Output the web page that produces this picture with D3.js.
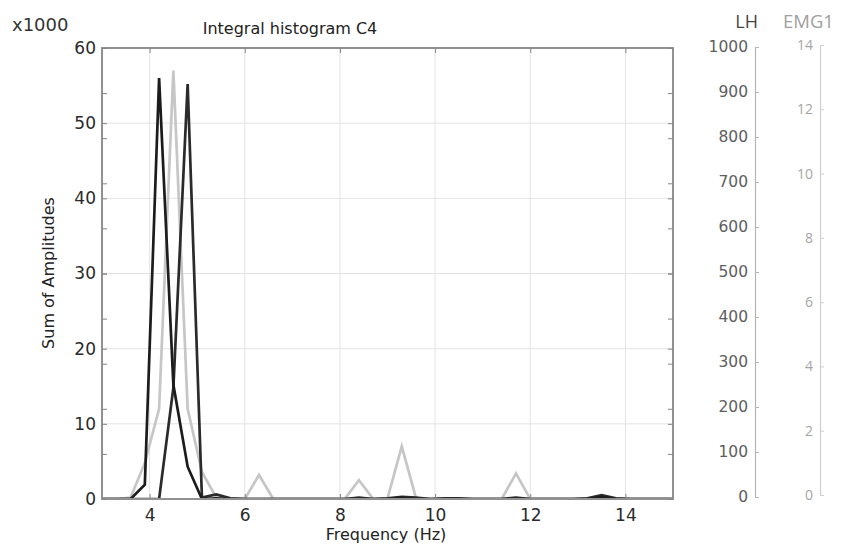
<!DOCTYPE html>
<html>
<head>
<meta charset="utf-8">
<script src="https://cdn.jsdelivr.net/npm/d3@7"></script>
<style>
  html, body { margin: 0; padding: 0; background: #fff; }
  svg { display: block; }
</style>
</head>
<body>
<script>
// ---------- data ----------
const freq = [3.0, 3.3, 3.6, 3.9, 4.2, 4.5, 4.8, 5.1, 5.4, 5.7, 6.0, 6.3, 6.6, 6.9, 7.2, 7.5, 7.8, 8.1, 8.4, 8.7,
              9.0, 9.3, 9.6, 9.9, 10.2, 10.5, 10.8, 11.1, 11.4, 11.7, 12.0, 12.3, 12.6, 12.9, 13.2, 13.5, 13.8, 14.1, 14.4, 14.7, 15.0];
// series A (black, peak at 4.2 Hz) - values in thousands
const seriesA = [0, 0, 0, 1.9, 56, 15.2, 4.3, 0, 0.1, 0, 0, 0, 0, 0, 0, 0, 0, 0, 0, 0,
                 0, 0.2, 0, 0, 0, 0, 0, 0, 0, 0, 0, 0, 0, 0, 0, 0.3, 0, 0, 0, 0, 0];
// series B (black, peak at 4.8 Hz)
const seriesB = [0, 0, 0, 0, 0, 14.8, 55.2, 0.2, 0.6, 0.1, 0, 0, 0, 0, 0, 0, 0, 0, 0.2, 0,
                 0.1, 0.3, 0.2, 0, 0.1, 0.1, 0, 0, 0, 0.2, 0, 0, 0, 0, 0.1, 0.5, 0.1, 0, 0, 0, 0];
// series C (light grey, peak at 4.5 Hz)
const seriesC = [0, 0, 0.2, 4.8, 12, 57, 12, 3.6, 0.2, 0, 0, 3.2, 0, 0, 0, 0, 0, 0, 2.5, 0,
                 0.1, 7.0, 0.1, 0, 0, 0, 0, 0, 0, 3.4, 0, 0, 0, 0, 0, 0.1, 0, 0, 0, 0, 0];

const xTicks = [4, 6, 8, 10, 12, 14];
const yTicks = [0, 10, 20, 30, 40, 50, 60];
const lhTicks = [0, 100, 200, 300, 400, 500, 600, 700, 800, 900, 1000];
const emgTicks = [0, 2, 4, 6, 8, 10, 12, 14];

const title = "Integral histogram C4";
const xLabel = "Frequency (Hz)";
const yLabel = "Sum of Amplitudes";
const multiplier = "x1000";

// ---------- layout ----------
const W = 843, H = 544;
const L = 102, R = 673, T = 48, B = 499;
const FONT = "'DejaVu Sans', sans-serif";

const svg = d3.select("body").append("svg").attr("width", W).attr("height", H);
svg.append("rect").attr("width", W).attr("height", H).attr("fill", "#fff");

svg.append("clipPath").attr("id", "plotclip")
  .append("rect").attr("x", L).attr("y", 0).attr("width", R - L).attr("height", B - 0.9);

const x = d3.scaleLinear().domain([3, 15]).range([L, R]);
const y = d3.scaleLinear().domain([0, 60]).range([B, T]);
const yLH = d3.scaleLinear().domain([0, 1000]).range([B, T]);
const yLHout = d3.scaleLinear().domain([0, 1000]).range([497, 47]);
const yEMG = d3.scaleLinear().domain([0, 14]).range([495, 45]);

// grid
const grid = svg.append("g");
grid.selectAll("line.v").data(xTicks).join("line")
  .attr("x1", d => x(d)).attr("x2", d => x(d)).attr("y1", T).attr("y2", B)
  .attr("stroke", "#e3e3e3").attr("stroke-width", 1);
grid.selectAll("line.h").data(yTicks.filter(d => d > 0 && d < 60)).join("line")
  .attr("x1", L).attr("x2", R).attr("y1", d => y(d)).attr("y2", d => y(d))
  .attr("stroke", "#e3e3e3").attr("stroke-width", 1);

// lines
const mk = vals => d3.line().x((d, i) => x(freq[i])).y(d => y(d))(vals);
const lines = svg.append("g").attr("clip-path", "url(#plotclip)");
lines.append("path").attr("d", mk(seriesC)).attr("fill", "none")
  .attr("stroke", "#c6c6c6").attr("stroke-width", 2.7);
lines.append("path").attr("d", mk(seriesB)).attr("fill", "none")
  .attr("stroke", "#2b2b2b").attr("stroke-width", 2.7);
lines.append("path").attr("d", mk(seriesA)).attr("fill", "none")
  .attr("stroke", "#1c1c1c").attr("stroke-width", 2.7);

// box
svg.append("rect").attr("x", L).attr("y", T).attr("width", R - L).attr("height", B - T)
  .attr("fill", "none").attr("stroke", "#858585").attr("stroke-width", 1.8);

function styleAxis(g, color, size) {
  g.select(".domain").remove();
  g.selectAll(".tick line").attr("stroke", color);
  g.selectAll(".tick text").attr("fill", "#2a2a2a").style("font-family", FONT).style("font-size", size + "px");
}

// left axis
svg.append("g").attr("transform", `translate(${L},0)`)
  .call(d3.axisLeft(y).tickValues(yTicks).tickSize(-5).tickPadding(6).tickFormat(d3.format("d")))
  .call(g => styleAxis(g, "#858585", 17));
// LH ticks on left edge
svg.append("g").attr("transform", `translate(${L},0)`)
  .call(d3.axisLeft(yLH).tickValues(lhTicks).tickSize(-5).tickFormat(""))
  .call(g => styleAxis(g, "#858585", 17));
// right edge ticks
svg.append("g").attr("transform", `translate(${R},0)`)
  .call(d3.axisRight(y).tickValues(yTicks).tickSize(-5).tickFormat(""))
  .call(g => styleAxis(g, "#858585", 17));
svg.append("g").attr("transform", `translate(${R},0)`)
  .call(d3.axisRight(yLH).tickValues(lhTicks).tickSize(-5).tickFormat(""))
  .call(g => styleAxis(g, "#858585", 17));
// bottom axis
svg.append("g").attr("transform", `translate(0,${B})`)
  .call(d3.axisBottom(x).tickValues(xTicks).tickSize(-5).tickPadding(10).tickFormat(d3.format("d")))
  .call(g => styleAxis(g, "#858585", 17));
// top ticks
svg.append("g").attr("transform", `translate(0,${T})`)
  .call(d3.axisTop(x).tickValues(xTicks).tickSize(-5).tickFormat(""))
  .call(g => styleAxis(g, "#858585", 17));

// LH outer axis
const lhG = svg.append("g").attr("transform", "translate(755,0)")
  .call(d3.axisLeft(yLHout).tickValues(lhTicks).tickSize(-4).tickSizeOuter(0).tickPadding(7).tickFormat(d3.format("d")));
lhG.select(".domain").attr("stroke", "#b5b5b5").attr("stroke-width", 1.2);
lhG.selectAll(".tick line").attr("stroke", "#b5b5b5");
lhG.selectAll(".tick text").attr("fill", "#5e5e5e").style("font-family", FONT).style("font-size", "15.5px");

// EMG1 outer axis
const emgG = svg.append("g").attr("transform", "translate(820,0)")
  .call(d3.axisLeft(yEMG).tickValues(emgTicks).tickSize(-4).tickSizeOuter(0).tickPadding(7).tickFormat(d3.format("d")));
emgG.select(".domain").attr("stroke", "#cfcfcf").attr("stroke-width", 1.2);
emgG.selectAll(".tick line").attr("stroke", "#cfcfcf");
emgG.selectAll(".tick text").attr("fill", "#a5a5a5").style("font-family", "'Open Sans', sans-serif").style("font-size", "14px");

// axis titles
svg.append("text").attr("x", 758).attr("y", 28).attr("text-anchor", "end")
  .style("font-family", "'Open Sans', sans-serif").style("font-size", "18px").attr("fill", "#444")
  .text("LH");
svg.append("text").attr("x", 783).attr("y", 28)
  .style("font-family", "'Open Sans', sans-serif").style("font-size", "18.5px").attr("fill", "#a0a0a0")
  .text("EMG1");

svg.append("text").attr("x", 290).attr("y", 34).attr("text-anchor", "middle")
  .style("font-family", FONT).style("font-size", "16px").attr("fill", "#222").text(title);
svg.append("text").attr("x", 12).attr("y", 31)
  .style("font-family", FONT).style("font-size", "18px").attr("fill", "#333").text(multiplier);
svg.append("text").attr("x", 386).attr("y", 540).attr("text-anchor", "middle")
  .style("font-family", FONT).style("font-size", "16px").attr("fill", "#222").text(xLabel);
svg.append("text").attr("transform", "translate(54,273) rotate(-90)").attr("text-anchor", "middle")
  .style("font-family", FONT).style("font-size", "16px").attr("fill", "#222").text(yLabel);
</script>
</body>
</html>
